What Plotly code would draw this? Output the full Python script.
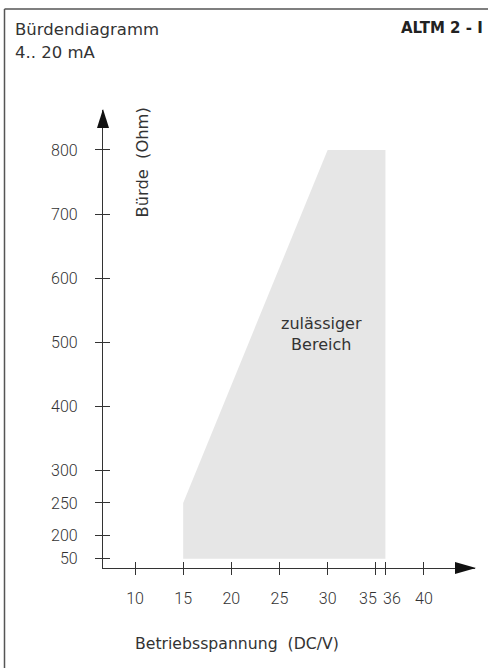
import plotly.graph_objects as go

# ---- data ----
area_u = [15, 15, 30, 36, 36]          # Betriebsspannung (V)
area_r = [50, 250, 800, 800, 50]       # Bürde (Ohm)
x_ticks = [10, 15, 20, 25, 30, 35, 36, 40]
x_ticklabels = ["10", "15", "20", "25", "30", "35", "36", "40"]
y_ticks = [50, 200, 250, 300, 400, 500, 600, 700, 800]
y_ticklabels = ["50", "200", "250", "300", "400", "500", "600", "700", "800"]

# broken y scale: values below 200 are compressed
def ys(v):
    return v if v >= 200 else 200 - (200 - v) * 0.246

W, H = 488, 668
ML, MR, MT, MB = 103, 13, 110, 100
PW, PH = W - ML - MR, H - MT - MB

def px(xp):
    return (xp - ML) / PW

def py(yp):
    return (H - MB - yp) / PH

XR = [6.678, 45.30]
YR = [148.6, 862.3]
INK = "#333333"
TXT = "#333333"

# the two close ticks (35, 36) get side-anchored labels instead of centred ones
close = {35: ("right", 2), 36: ("left", -3)}
axis_text = ["" if v in close else t for v, t in zip(x_ticks, x_ticklabels)]

fig = go.Figure()
fig.add_trace(go.Scatter(
    x=area_u, y=[ys(v) for v in area_r], mode="lines", fill="toself",
    fillcolor="#e6e6e6", line=dict(width=0), hoverinfo="skip", showlegend=False))
# dummy trace for overlay axes (inside ticks)
fig.add_trace(go.Scatter(x=[XR[0]], y=[YR[0]], xaxis="x2", yaxis="y2",
                         mode="markers", marker=dict(opacity=0), showlegend=False,
                         hoverinfo="skip"))

tickfont = dict(family="Roboto", size=16, color=TXT, weight=300)
fig.update_layout(
    width=W, height=H, margin=dict(l=ML, r=MR, t=MT, b=MB),
    paper_bgcolor="white", plot_bgcolor="white", showlegend=False,
    xaxis=dict(range=XR, showgrid=False, zeroline=False, showline=True,
               linecolor=INK, linewidth=1.3, ticks="outside", ticklen=6,
               tickwidth=1.2, tickcolor=INK, tickvals=x_ticks, tickangle=0,
               ticktext=axis_text, tickfont=tickfont, ticklabelstandoff=10),
    yaxis=dict(range=YR, showgrid=False, zeroline=False, showline=True,
               linecolor=INK, linewidth=1.3, ticks="outside", ticklen=7,
               tickwidth=1.2, tickcolor=INK, tickvals=[ys(v) for v in y_ticks],
               ticktext=y_ticklabels, tickfont=tickfont, ticklabelstandoff=14),
    xaxis2=dict(range=XR, overlaying="x", anchor="y2", side="bottom",
                showgrid=False, zeroline=False, showline=False, ticks="inside",
                ticklen=6, tickwidth=1.2, tickcolor=INK, tickvals=x_ticks,
                showticklabels=False),
    yaxis2=dict(range=YR, overlaying="y", anchor="x2", side="left",
                showgrid=False, zeroline=False, showline=False, ticks="inside",
                ticklen=7, tickwidth=1.2, tickcolor=INK,
                tickvals=[ys(v) for v in y_ticks], showticklabels=False),
)

for v, t in zip(x_ticks, x_ticklabels):
    if v in close:
        anchor, shift = close[v]
        fig.add_annotation(text=t, xref="x", yref="paper", x=v, y=py(598),
                           xanchor=anchor, yanchor="middle", xshift=shift,
                           showarrow=False, font=tickfont, borderpad=0)

# arrowheads (paper coordinates so they are not clipped)
fig.add_shape(type="path", xref="paper", yref="paper",
              path=f"M {px(476)},{py(568)} L {px(455)},{py(562)} L {px(455)},{py(574)} Z",
              fillcolor="#111", line=dict(width=0), layer="above")
fig.add_shape(type="path", xref="paper", yref="paper",
              path=f"M {px(103)},{py(109)} L {px(97)},{py(128)} L {px(109)},{py(128)} Z",
              fillcolor="#111", line=dict(width=0), layer="above")

# frame (top + left)
fig.add_shape(type="line", xref="paper", yref="paper", x0=px(4.5), x1=px(490),
              y0=py(9), y1=py(9), line=dict(color="#555", width=1.5))
fig.add_shape(type="line", xref="paper", yref="paper", x0=px(4.5), x1=px(4.5),
              y0=py(9), y1=py(670), line=dict(color="#555", width=1.5))

txt = dict(family="DejaVu Sans", size=16, color=TXT)
fig.add_annotation(text="Bürdendiagramm", xref="paper", yref="paper",
                   x=px(13), y=py(29), xanchor="left", yanchor="middle",
                   showarrow=False, font=dict(txt, size=16.5))
fig.add_annotation(text="4.. 20 mA", xref="paper", yref="paper",
                   x=px(13), y=py(53), xanchor="left", yanchor="middle",
                   showarrow=False, font=dict(txt, size=16.5))
fig.add_annotation(text="<b>ALTM 2 - I</b>", xref="paper", yref="paper",
                   x=px(485), y=py(28), xanchor="right", yanchor="middle",
                   showarrow=False, font=dict(family="DejaVu Sans", size=15, color="#222"))
fig.add_annotation(text="Bürde  (Ohm)", xref="paper", yref="paper",
                   x=px(142), y=py(162.5), xanchor="center", yanchor="middle",
                   textangle=-90, showarrow=False, font=dict(txt, size=16.3))
fig.add_annotation(text="Betriebsspannung  (DC/V)", xref="paper", yref="paper",
                   x=px(237), y=py(643), xanchor="center", yanchor="middle",
                   showarrow=False, font=dict(txt, size=15.7))
fig.add_annotation(text="zulässiger<br>Bereich", xref="x", yref="y",
                   x=29.38, y=ys(514), xanchor="center", yanchor="middle",
                   showarrow=False, font=dict(txt, size=16))

fig.write_html("out.html", config={"displayModeBar": False},
               post_script="document.body.style.margin='0';")
